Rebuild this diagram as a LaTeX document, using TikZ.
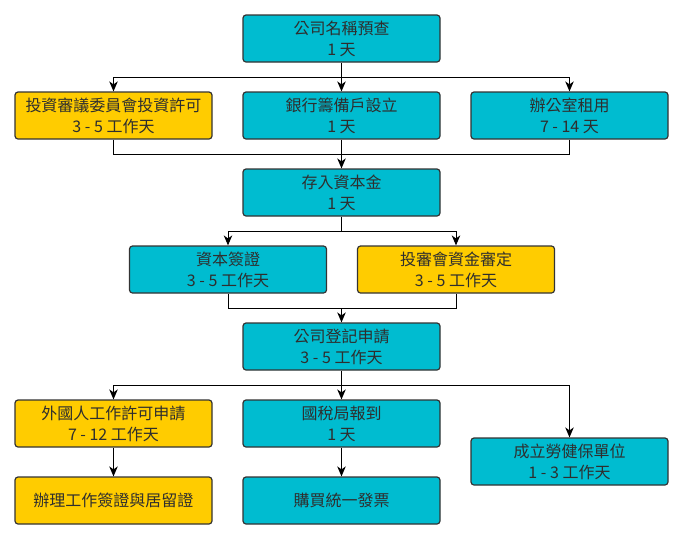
\documentclass[tikz,border=0pt]{standalone}
\usepackage{fontspec}
\setmainfont{Noto Sans CJK TC}
\usetikzlibrary{arrows.meta}
\definecolor{teal1}{HTML}{00BCD0}
\definecolor{gold1}{HTML}{FFCC00}
\definecolor{edge1}{HTML}{333333}
\definecolor{txt1}{HTML}{2E2E2E}
\tikzset{
  stepbox/.style={draw=edge1, line width=1.2pt, rounded corners=3pt,
    minimum width=197pt, minimum height=47pt, inner sep=0pt,
    align=center, text=txt1, font=\fontsize{16}{21}\selectfont},
  tealbox/.style={stepbox, fill=teal1},
  goldbox/.style={stepbox, fill=gold1},
  conn/.style={line width=1pt, black},
  arr/.style={conn, -{Stealth[length=10pt,width=8.5pt,inset=3pt]}}
}
\begin{document}
\begin{tikzpicture}[x=1pt,y=-1pt]
\useasboundingbox (0,0) rectangle (681,539);
% row 1
\node[tealbox] (n1) at (341.5,38.5) {公司名稱預查\\1 天};
% row 2
\node[goldbox] (a) at (113.5,115.5) {投資審議委員會投資許可\\3 - 5 工作天};
\node[tealbox] (b) at (341.5,115.5) {銀行籌備戶設立\\1 天};
\node[tealbox] (c) at (569.5,115.5) {辦公室租用\\7 - 14 天};
% row 3
\node[tealbox] (d) at (341.5,192.5) {存入資本金\\1 天};
% row 4
\node[tealbox] (e) at (228,269.5) {資本簽證\\3 - 5 工作天};
\node[goldbox] (f) at (456,269.5) {投審會資金審定\\3 - 5 工作天};
% row 5
\node[tealbox] (g) at (341.5,346.5) {公司登記申請\\3 - 5 工作天};
% row 6
\node[goldbox] (h) at (113.5,423.5) {外國人工作許可申請\\7 - 12 工作天};
\node[tealbox] (i) at (341.5,423.5) {國稅局報到\\1 天};
\node[tealbox] (j) at (569.5,461.5) {成立勞健保單位\\1 - 3 工作天};
% row 7
\node[goldbox] (k) at (113.5,500.5) {辦理工作簽證與居留證};
\node[tealbox] (l) at (341.5,500.5) {購買統一發票};
% junctions
\coordinate (j1) at (341.5,77);
\coordinate (m1) at (341.5,154);
\coordinate (j2) at (341.5,231);
\coordinate (m2) at (341.5,308);
\coordinate (j3) at (341.5,385);
% connectors
\draw[conn] (n1.south) -- (j1);
\draw[arr] (j1) -| (a.north);
\draw[arr] (j1) -- (b.north);
\draw[arr] (j1) -| (c.north);
\draw[conn] (a.south) |- (m1);
\draw[conn] (c.south) |- (m1);
\draw[arr] (b.south) -- (d.north);
\draw[conn] (d.south) -- (j2);
\draw[arr] (j2) -| (e.north);
\draw[arr] (j2) -| (f.north);
\draw[conn] (e.south) |- (m2);
\draw[conn] (f.south) |- (m2);
\draw[arr] (m2) -- (g.north);
\draw[conn] (g.south) -- (j3);
\draw[arr] (j3) -| (h.north);
\draw[arr] (j3) -- (i.north);
\draw[arr] (j3) -| (j.north);
\draw[arr] (h.south) -- (k.north);
\draw[arr] (i.south) -- (l.north);
\end{tikzpicture}
\end{document}
